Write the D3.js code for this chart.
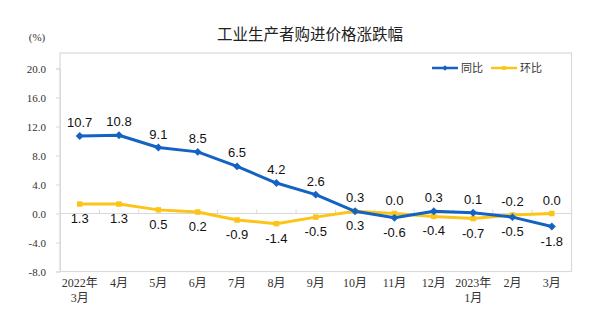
<!DOCTYPE html>
<html><head><meta charset="utf-8">
<script src="https://cdn.jsdelivr.net/npm/d3@7"></script>
<style>body{margin:0;background:#fff;}svg{display:block;}</style>
</head><body>
<script>
const categories = ["2022年\n3月","4月","5月","6月","7月","8月","9月","10月","11月","12月","2023年\n1月","2月","3月"];
const yoyValues = [10.7,10.8,9.1,8.5,6.5,4.2,2.6,0.3,-0.6,0.3,0.1,-0.5,-1.8];
const momValues = [1.3,1.3,0.5,0.2,-0.9,-1.4,-0.5,0.3,0.0,-0.4,-0.7,-0.2,0.0];
const yoyLabelSide = ["up","up","up","up","up","up","up","up","down","up","up","down","down"];
const momLabelSide = ["down","down","down","down","down","down","down","down","up","down","down","up","up"];
const yTicks = [-8,-4,0,4,8,12,16,20];
const seriesNames = ["同比","环比"];

(function(){
const W=600,H=329;
const pLeft=60,pRight=571.5,pTop=53,pBottom=271.5;
const blue="#1463c2", yellow="#fcc419";
const fmt=d3.formatLocale({decimal:".",thousands:",",grouping:[3],currency:["",""],minus:"-"}).format(".1f");
const svg=d3.select("body").append("svg").attr("width",W).attr("height",H);

const x=d3.scaleBand().domain(categories).range([pLeft,pRight]);
const y=d3.scaleLinear().domain([-8,20]).range([271.5,68.5]);
const cx=(d)=>x(d)+x.bandwidth()/2;

// title
svg.append("text").attr("x",310).attr("y",40).attr("text-anchor","middle")
  .attr("font-family","'Noto Sans CJK SC',sans-serif").attr("font-size",15.5).attr("fill","#222")
  .text("工业生产者购进价格涨跌幅");
svg.append("text").attr("x",37).attr("y",41).attr("text-anchor","middle")
  .attr("font-family","'Liberation Serif',serif").attr("font-size",11).attr("fill","#333").text("(%)");

// plot border
svg.append("rect").attr("x",pLeft).attr("y",pTop).attr("width",pRight-pLeft).attr("height",pBottom-pTop)
  .attr("fill","none").attr("stroke","#d9d9d9").attr("stroke-width",1.2);

// y axis
const yAxis=d3.axisLeft(y).tickValues(yTicks).tickFormat(fmt).tickSize(4).tickPadding(10);
const ga=svg.append("g").attr("transform",`translate(${pLeft},0)`).call(yAxis);
ga.select(".domain").attr("stroke","#d9d9d9");
ga.selectAll(".tick line").attr("stroke","#d9d9d9");
ga.selectAll(".tick text").attr("font-family","'Liberation Serif',serif").attr("font-size",11).attr("fill","#333");

// zero line with upward ticks at band boundaries
svg.append("line").attr("x1",pLeft).attr("x2",pRight).attr("y1",y(0)).attr("y2",y(0)).attr("stroke","#d9d9d9").attr("stroke-width",1.2);
categories.forEach((c,i)=>{ if(i>0){ svg.append("line").attr("x1",x(c)).attr("x2",x(c)).attr("y1",y(0)).attr("y2",y(0)-4).attr("stroke","#d9d9d9"); }});

// x labels
const xl=svg.append("g");
categories.forEach(c=>{
  const lines=c.split("\n");
  const t=xl.append("text").attr("x",cx(c)).attr("y",287).attr("text-anchor","middle")
    .attr("font-family","'Liberation Serif','Noto Sans CJK SC',serif").attr("font-size",12).attr("fill","#333");
  lines.forEach((l,i)=>t.append("tspan").attr("x",cx(c)).attr("dy",i===0?0:15).text(l));
});

const line=d3.line().x((d,i)=>cx(categories[i])).y(d=>y(d));
function drawSeries(vals,color,marker,sides){
  svg.append("path").datum(vals).attr("d",line).attr("fill","none").attr("stroke",color).attr("stroke-width",3).attr("stroke-linejoin","round");
  const sym = marker==="diamond" ? d3.symbol().type(d3.symbolDiamond2).size(40) : d3.symbol().type(d3.symbolSquare).size(30);
  svg.selectAll(null).data(vals).enter().append("path").attr("d",sym)
    .attr("transform",(d,i)=>`translate(${cx(categories[i])},${y(d)})`).attr("fill",color);
  svg.selectAll(null).data(vals).enter().append("text")
    .attr("x",(d,i)=>cx(categories[i])).attr("y",(d,i)=>y(d)+(sides[i]==="up"?-9:19))
    .attr("text-anchor","middle").attr("font-family","'Liberation Sans',Arial,sans-serif").attr("font-size",13).attr("fill","#111")
    .text(d=>fmt(d));
}
drawSeries(momValues,yellow,"square",momLabelSide);
drawSeries(yoyValues,blue,"diamond",yoyLabelSide);

// legend
const lg=[{name:seriesNames[0],color:blue,x0:432,m:"diamond"},{name:seriesNames[1],color:yellow,x0:491,m:"square"}];
lg.forEach(l=>{
  svg.append("line").attr("x1",l.x0).attr("x2",l.x0+26).attr("y1",68).attr("y2",68).attr("stroke",l.color).attr("stroke-width",2.5);
  const s = l.m==="diamond"? d3.symbol().type(d3.symbolDiamond2).size(20) : d3.symbol().type(d3.symbolSquare).size(14);
  svg.append("path").attr("d",s).attr("transform",`translate(${l.x0+13},68)`).attr("fill",l.color);
  svg.append("text").attr("x",l.x0+29).attr("y",72).attr("font-family","'Noto Sans CJK SC',sans-serif").attr("font-size",11).attr("fill","#333").text(l.name);
});
})();
</script>
</body></html>
